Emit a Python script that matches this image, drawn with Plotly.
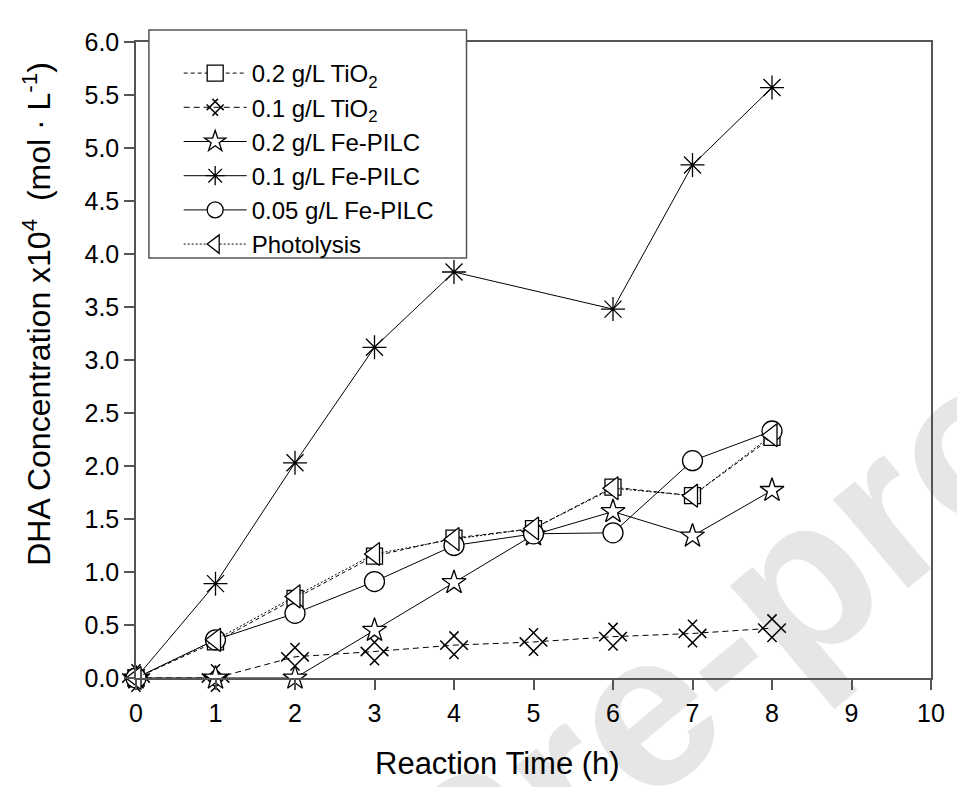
import math
import plotly.graph_objects as go

# ---- data ----
time_h = [0, 1, 2, 3, 4, 5, 6, 7, 8]
time_fe01 = [0, 1, 2, 3, 4, 6, 7, 8]
tio2_02 = [0, 0.34, 0.75, 1.15, 1.32, 1.41, 1.80, 1.72, 2.27]
tio2_01 = [0, 0, 0.20, 0.25, 0.31, 0.34, 0.39, 0.42, 0.47]
fe_02 = [0, 0, 0, 0.45, 0.90, 1.35, 1.57, 1.34, 1.77]
fe_01 = [0, 0.89, 2.03, 3.12, 3.83, 3.48, 4.84, 5.57]
fe_005 = [0, 0.36, 0.61, 0.91, 1.25, 1.36, 1.37, 2.05, 2.33]
photolysis = [0, 0.36, 0.77, 1.17, 1.31, 1.41, 1.79, 1.72, 2.29]

names = ["0.2 g/L TiO<sub>2</sub>", "0.1 g/L TiO<sub>2</sub>", "0.2 g/L Fe-PILC",
         "0.1 g/L Fe-PILC", "0.05 g/L Fe-PILC", "Photolysis"]
x_ticks = list(range(0, 11))
y_ticks = [i * 0.5 for i in range(13)]

FONT = "Arial, Liberation Sans, sans-serif"
AX = "#555555"

fig = go.Figure()

def add(x, y, name, symbol, dash, size, fill="white", angle=0, lw=1.3):
    fig.add_trace(go.Scatter(
        x=x, y=y, name=name, mode="lines+markers", cliponaxis=False,
        line=dict(color="black", width=1, dash=dash),
        marker=dict(symbol=symbol, size=size, color=fill, angle=angle,
                    line=dict(color="black", width=lw)),
    ))

add(time_h, tio2_02, names[0], "square", "4px,3px", 16)
add(time_h, tio2_01, names[1], "hash-open", "6px,4px", 26, fill="black", angle=45, lw=1.5)
add(time_h, fe_02, names[2], "star", "solid", 18)
add(time_fe01, fe_01, names[3], "asterisk-open", "solid", 20, fill="black")
add(time_h, fe_005, names[4], "circle", "solid", 20)
add(time_h, photolysis, names[5], "triangle-left", "2px,2px", 20)

# plot-area geometry in pixels
L, R, T, B = 136, 937, 42, 678
W, H = 957, 787

def px2paper(px, py):
    return (px - L) / (R - L), (B - py) / (B - T)

# watermark
cx, cy = 457, 842
ang = math.radians(40)
d = 300
x0, y0 = px2paper(cx - d * math.cos(ang), cy + d * math.sin(ang))
x1, y1 = px2paper(cx + d * math.cos(ang), cy - d * math.sin(ang))
fig.add_shape(type="line", xref="paper", yref="paper", x0=x0, y0=y0, x1=x1, y1=y1,
              layer="below", line=dict(color="rgba(0,0,0,0)", width=1),
              label=dict(text="<b>Journal Pre-proof</b>", textangle=-40, textposition="middle",
                         yanchor="middle",
                         font=dict(family=FONT, size=220, color="#e6e6e6")))

# legend box
bx0, by0 = px2paper(149, 258)
bx1, by1 = px2paper(469, 30)
fig.add_shape(type="rect", xref="paper", yref="paper", x0=bx0, y0=by0, x1=bx1, y1=by1,
              layer="above", fillcolor="white", line=dict(color=AX, width=1.5))

# axis titles as annotations (positioned as in the reference)
tx, ty = px2paper(500, 763)
fig.add_annotation(text="Reaction Time (h)", xref="paper", yref="paper", x=tx, y=ty,
                   showarrow=False, xanchor="center", yanchor="middle",
                   font=dict(family=FONT, size=31, color="black"))
tx, ty = px2paper(36, 314)
fig.add_annotation(text="DHA Concentration x10<sup>4</sup>  (mol · L<sup>-1</sup>)",
                   xref="paper", yref="paper", x=tx, y=ty, textangle=-90,
                   showarrow=False, xanchor="center", yanchor="middle",
                   font=dict(family=FONT, size=32, color="black"))

lx, ly = px2paper(179, 51)
fig.update_layout(
    width=W, height=H,
    margin=dict(l=L, r=W - R, t=T, b=H - B),
    paper_bgcolor="white", plot_bgcolor="white",
    font=dict(family=FONT, color="black"),
    showlegend=True,
    legend=dict(x=lx, y=ly, xanchor="left", yanchor="top",
                bgcolor="rgba(0,0,0,0)", borderwidth=0,
                font=dict(family=FONT, size=24, color="black"),
                itemwidth=63, tracegroupgap=0),
    xaxis=dict(range=[0, 10], tickvals=x_ticks, ticks="outside", ticklen=10,
               tickcolor=AX, tickwidth=1.5, showline=True, linecolor=AX, linewidth=1.5,
               mirror=True, showgrid=False, zeroline=False, ticklabelstandoff=2,
               tickfont=dict(family=FONT, size=25, color="black")),
    yaxis=dict(range=[0, 6], tickvals=y_ticks, tickformat=".1f", ticks="outside",
               ticklen=10, tickcolor=AX, tickwidth=1.5, showline=True, linecolor=AX,
               linewidth=1.5, mirror=True, showgrid=False, zeroline=False,
               tickfont=dict(family=FONT, size=25, color="black")),
)

fig.write_html("out.html")
